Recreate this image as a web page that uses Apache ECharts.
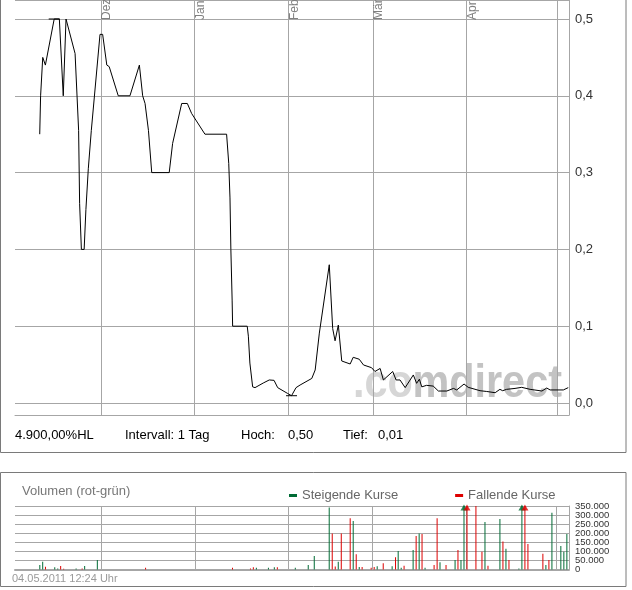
<!DOCTYPE html>
<html><head><meta charset="utf-8">
<script src="https://cdn.jsdelivr.net/npm/echarts@6/dist/echarts.min.js"></script>
<style>html,body{margin:0;padding:0;background:#fff}#c{width:632px;height:590px}</style>
</head><body><div id="c"></div>
<script>
// ---- data ----
const axisStart = '2010-11-02 12:30';
const axisEnd = '2011-05-04 23:00';
const monthNames = ['Jan','Feb','Mär','Apr','Mai','Jun','Jul','Aug','Sep','Okt','Nov','Dez'];

const priceDates = [
'2010-11-10 17:00','2010-11-11 00:00','2010-11-11 17:00','2010-11-12 14:00','2010-11-15 12:00','2010-11-17 05:00',
'2010-11-18 12:00','2010-11-19 10:00','2010-11-22 10:00','2010-11-23 14:00','2010-11-23 22:00','2010-11-24 12:00',
'2010-11-25 10:00','2010-11-26 00:00','2010-11-26 19:00','2010-11-27 19:00','2010-11-30 16:00','2010-12-01 13:00',
'2010-12-02 22:00','2010-12-03 17:00','2010-12-06 17:00','2010-12-10 14:00','2010-12-13 17:00','2010-12-14 19:00',
'2010-12-15 14:00','2010-12-16 17:00','2010-12-17 19:00','2010-12-23 14:00','2010-12-24 17:00','2010-12-27 17:00',
'2010-12-29 14:00','2010-12-31 00:00','2011-01-04 10:00','2011-01-11 14:00','2011-01-12 07:00','2011-01-12 17:00',
'2011-01-13 00:00','2011-01-13 10:00','2011-01-13 14:00','2011-01-18 10:00','2011-01-18 19:00','2011-01-19 07:00',
'2011-01-20 05:00','2011-01-21 00:00','2011-01-23 17:00','2011-01-25 17:00','2011-01-27 07:00','2011-01-28 12:00',
'2011-01-31 17:00','2011-02-02 02:00','2011-02-03 14:00','2011-02-04 22:00','2011-02-08 19:00','2011-02-09 22:00',
'2011-02-11 07:00','2011-02-14 14:00','2011-02-15 17:00','2011-02-16 12:00','2011-02-17 14:00','2011-02-18 17:00',
'2011-02-21 12:00','2011-02-22 12:00','2011-02-24 12:00','2011-02-25 22:00','2011-02-28 14:00','2011-03-01 17:00',
'2011-03-03 10:00','2011-03-04 12:00','2011-03-07 14:00','2011-03-08 17:00','2011-03-10 00:00','2011-03-11 17:00',
'2011-03-14 10:00','2011-03-15 12:00','2011-03-16 10:00','2011-03-17 05:00','2011-03-18 19:00','2011-03-21 00:00',
'2011-03-22 17:00','2011-03-25 12:00','2011-03-27 17:00','2011-03-28 19:00','2011-03-31 05:00','2011-04-01 14:00',
'2011-04-05 12:00','2011-04-07 17:00','2011-04-10 12:00','2011-04-12 02:00','2011-04-13 00:00','2011-04-14 07:00',
'2011-04-17 02:00','2011-04-19 07:00','2011-04-22 02:00','2011-04-26 00:00','2011-04-27 14:00','2011-04-28 17:00',
'2011-05-03 02:00','2011-05-04 17:00'
];
const priceValues = [
0.35,0.40,0.45,0.44,0.50,0.50,
0.40,0.50,0.455,0.355,0.26,0.20,
0.20,0.252,0.305,0.355,0.48,0.48,
0.44,0.438,0.40,0.40,0.44,0.40,
0.39,0.355,0.30,0.30,0.338,0.39,
0.39,0.377,0.35,0.35,0.312,0.267,
0.20,0.134,0.10,0.10,0.087,0.052,
0.021,0.020,0.026,0.030,0.0295,0.020,
0.0126,0.0095,0.020,0.0234,0.032,0.043,
0.091,0.18,0.097,0.081,0.1015,0.0547,
0.0508,0.0595,0.057,0.0495,0.046,0.041,
0.045,0.030,0.041,0.030,0.030,0.020,
0.0365,0.0256,0.031,0.021,0.023,0.022,
0.0156,0.0156,0.019,0.017,0.0247,0.0204,
0.016,0.015,0.0134,0.0178,0.016,0.0178,
0.019,0.0204,0.0178,0.0156,0.0195,0.017,
0.017,0.020
];

const volUpDates = [
'2010-11-10 14:00','2010-11-11 13:00','2010-11-15 13:00','2010-11-16 13:00','2010-11-22 15:00','2010-11-25 11:00',
'2010-11-29 16:00','2011-01-21 10:00','2011-01-25 10:00','2011-01-27 09:00','2011-02-03 08:00','2011-02-07 15:00',
'2011-02-09 15:00','2011-02-14 14:00','2011-02-17 14:00','2011-02-22 13:00','2011-02-24 13:00','2011-03-02 12:00',
'2011-03-07 11:00','2011-03-09 11:00','2011-03-10 11:00','2011-03-14 10:00','2011-03-16 10:00','2011-03-18 09:00',
'2011-03-23 08:00','2011-03-28 08:00','2011-03-30 07:00','2011-03-31 07:00','2011-04-07 06:00','2011-04-12 05:00',
'2011-04-14 05:00','2011-04-18 12:00','2011-04-19 12:00','2011-04-27 11:00','2011-04-29 11:00','2011-05-02 10:00',
'2011-05-03 10:00','2011-05-04 10:00'
];
const volUpValues = [
25000,43000,12000,5000,6000,19000,
52000,9000,9000,12000,9000,25000,
75000,342000,43000,267000,14000,18000,
18000,102000,9000,107000,199000,9000,
40000,52000,52000,420000,262000,278000,
115000,5000,410000,25000,313000,130000,
98000,196000
];
const volDownDates = [
'2010-11-12 11:00','2010-11-17 12:00','2010-11-18 12:00','2010-11-24 15:00','2010-12-15 16:00','2011-01-13 12:00',
'2011-01-19 11:00','2011-01-20 10:00','2011-01-28 09:00','2011-02-15 14:00','2011-02-16 14:00','2011-02-18 14:00',
'2011-02-21 13:00','2011-02-23 13:00','2011-02-25 12:00','2011-02-28 12:00','2011-03-01 12:00','2011-03-04 12:00',
'2011-03-08 14:00','2011-03-11 10:00','2011-03-15 10:00','2011-03-17 09:00','2011-03-21 09:00','2011-03-22 09:00',
'2011-03-25 08:00','2011-03-29 07:00','2011-04-01 07:00','2011-04-04 06:00','2011-04-06 06:00','2011-04-08 06:00',
'2011-04-13 05:00','2011-04-15 05:00','2011-04-20 12:00','2011-04-21 12:00','2011-04-26 11:00','2011-04-28 11:00'
];
const volDownValues = [
15000,19000,4000,5000,9000,9000,
5000,12000,12000,199000,16000,199000,
282000,84000,14000,9000,14000,34000,
67000,20000,185000,196000,25000,282000,
25000,107000,430000,350000,98000,20000,
154000,52000,400000,140000,87000,52000
];
const volumeMax = 350000;
const volumeStep = 50000;
const infoTexts = ['4.900,00%HL', 'Intervall: 1 Tag', 'Hoch:', '0,50', 'Tief:', '0,01'];

// ---- chart ----
const GRID = '#a6a6a6', GREEN = '#006b35', RED = '#dd0000';
const FONT = 'Liberation Sans';
const DAY = 86400000;
const endTs = echarts.time.parse(axisEnd).getTime();
const zip = (a, b) => a.map((d, i) => [d, b[i]]);
const over = (a, b) => a.filter((d, i) => b[i] > volumeMax).map(d => [d, volumeMax]);
const volFmt = v => v === 0 ? '0' : (v / 1000) + '.000';
const volLabel = {margin: 6, color: '#333', fontSize: 9.5, fontFamily: FONT, formatter: volFmt};

const chart = echarts.init(document.getElementById('c'), null, {renderer: 'canvas'});
const infoX = [15, 125, 241, 288, 343, 378];
chart.setOption({
  animation: false,
  backgroundColor: '#fff',
  grid: [
    {left: 15, right: 63, top: 0, height: 415, outerBoundsMode: 'none', containLabel: false},
    {left: 15, right: 63, top: 506, height: 63.5, outerBoundsMode: 'none', containLabel: false}
  ],
  legend: {
    data: ['Steigende Kurse', 'Fallende Kurse'], left: 284, top: 484,
    icon: 'rect', itemWidth: 8, itemHeight: 3, itemGap: 57, selectedMode: false,
    textStyle: {color: '#666', fontSize: 13, fontFamily: FONT}
  },
  xAxis: [
    {type: 'time', gridIndex: 0, position: 'top', min: axisStart, max: axisEnd, splitNumber: 7,
     axisLine: {show: false}, axisTick: {show: false},
     axisLabel: {inside: true, rotate: 90, align: 'left', verticalAlign: 'top', margin: 20,
       color: '#808080', fontSize: 12, fontFamily: FONT, showMaxLabel: false, showMinLabel: false,
       formatter: v => (endTs - v < 8 * DAY) ? '' : monthNames[new Date(v).getMonth()]},
     splitLine: {show: true, showMinLine: false, showMaxLine: false, lineStyle: {color: GRID, width: 1}}},
    {type: 'time', gridIndex: 0, position: 'bottom', min: axisStart, max: axisEnd,
     axisLine: {show: true, lineStyle: {color: GRID, width: 1}}, axisTick: {show: false},
     axisLabel: {show: false}, splitLine: {show: false}},
    {type: 'time', gridIndex: 1, position: 'bottom', min: axisStart, max: axisEnd, splitNumber: 7,
     axisLine: {show: true, lineStyle: {color: GRID, width: 2}}, axisTick: {show: false},
     axisLabel: {show: false}, splitLine: {show: true, showMinLine: false, showMaxLine: false, lineStyle: {color: GRID, width: 1}}}
  ],
  yAxis: [
    {type: 'value', gridIndex: 0, position: 'right', min: -0.015625, max: 0.52474, splitNumber: 5,
     axisLine: {show: true, lineStyle: {color: GRID}}, axisTick: {show: false},
     axisLabel: {margin: 6, color: '#333', fontSize: 13, fontFamily: FONT,
       formatter: v => { const r = Math.round(v * 10) / 10; return Math.abs(v - r) < 1e-6 ? r.toFixed(1).replace('.', ',') : ''; }},
     splitLine: {show: true, lineStyle: {color: GRID}}},
    {type: 'value', gridIndex: 1, position: 'right', min: 0, max: volumeMax, interval: volumeStep,
     axisLine: {show: true, lineStyle: {color: GRID}}, axisTick: {show: false},
     axisLabel: Object.assign({showMinLabel: false, showMaxLabel: false, hideOverlap: false}, volLabel),
     splitLine: {show: true, lineStyle: {color: GRID}}},
    {type: 'value', gridIndex: 1, position: 'right', min: 0, max: volumeMax, interval: volumeMax,
     axisLine: {show: false}, axisTick: {show: false},
     axisLabel: Object.assign({showMinLabel: true, showMaxLabel: true}, volLabel),
     splitLine: {show: false}}
  ],
  series: [
    {type: 'line', xAxisIndex: 0, yAxisIndex: 0, data: zip(priceDates, priceValues), showSymbol: false,
     lineStyle: {color: '#000', width: 1}, z: 5, silent: true,
     markPoint: {symbol: 'rect', symbolSize: [11, 1], itemStyle: {color: '#000'}, label: {show: false},
       data: [{type: 'max'}, {type: 'min'}]}},
    {name: 'Steigende Kurse', type: 'bar', xAxisIndex: 2, yAxisIndex: 1, data: zip(volUpDates, volUpValues),
     barWidth: 1, barGap: '-100%', itemStyle: {color: GREEN}},
    {name: 'Fallende Kurse', type: 'bar', xAxisIndex: 2, yAxisIndex: 1, data: zip(volDownDates, volDownValues),
     barWidth: 1, barGap: '-100%', itemStyle: {color: RED}},
    {type: 'scatter', xAxisIndex: 2, yAxisIndex: 1, data: over(volUpDates, volUpValues), clip: false,
     symbol: 'triangle', symbolSize: [7, 6], symbolOffset: [0, 1.5], itemStyle: {color: GREEN}},
    {type: 'scatter', xAxisIndex: 2, yAxisIndex: 1, data: over(volDownDates, volDownValues), clip: false,
     symbol: 'triangle', symbolSize: [7, 6], symbolOffset: [0, 1.5], itemStyle: {color: RED}}
  ],
  graphic: [
    {type: 'rect', shape: {x: 0.5, y: -5, width: 625.5, height: 457.5}, style: {fill: null, stroke: '#7a7a7a', lineWidth: 1}, z: 0},
    {type: 'rect', shape: {x: 0.5, y: 472.5, width: 625.5, height: 114}, style: {fill: null, stroke: '#7a7a7a', lineWidth: 1}, z: 0},
    {type: 'group', x: 353, y: 407, scaleX: 0.9, z: 1, children: [
      {type: 'text', x: 0, y: 0, style: {text: '.co', font: 'bold 46px ' + FONT, fill: '#d6d6d6', textVerticalAlign: 'bottom', verticalAlign: 'bottom'}},
      {type: 'text', x: 66, y: 0, style: {text: 'mdirect', font: 'bold 46px ' + FONT, fill: '#c3c3c3', textVerticalAlign: 'bottom', verticalAlign: 'bottom'}}
    ]},
    ...infoTexts.map((t, i) => ({type: 'text', x: infoX[i], y: 435,
      style: {text: t, font: '13px ' + FONT, fill: '#000', textVerticalAlign: 'middle', verticalAlign: 'middle'}})),
    {type: 'text', x: 22, y: 491, style: {text: 'Volumen (rot-grün)', font: '13px ' + FONT, fill: '#777', textVerticalAlign: 'middle', verticalAlign: 'middle'}},
    {type: 'text', x: 12, y: 579, style: {text: '04.05.2011 12:24 Uhr', font: '11px ' + FONT, fill: '#9a9a9a', textVerticalAlign: 'middle', verticalAlign: 'middle'}}
  ]
});
</script></body></html>
